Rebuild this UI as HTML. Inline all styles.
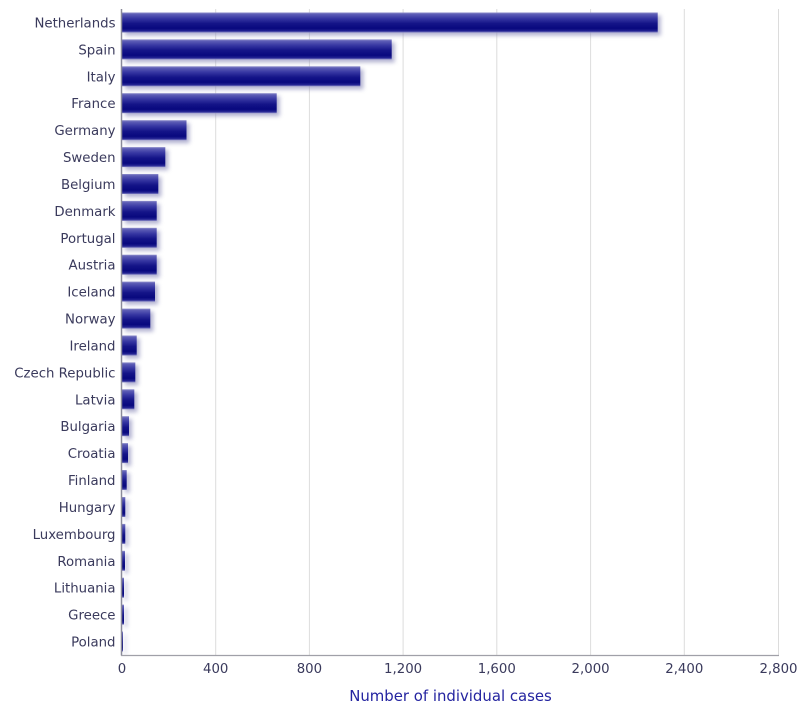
<!DOCTYPE html>
<html>
<head>
<meta charset="utf-8">
<style>
  html, body { margin: 0; padding: 0; background: #ffffff; }
  body { width: 812px; height: 714px; overflow: hidden; }
  svg { display: block; }
  text { font-family: "DejaVu Sans", "Liberation Sans", sans-serif; }
</style>
</head>
<body>
<svg width="812" height="714" viewBox="0 0 812 714" xmlns="http://www.w3.org/2000/svg">
  <defs>
    <linearGradient id="bg" x1="0" y1="0" x2="0" y2="1">
      <stop offset="0" stop-color="#9090cc"/>
      <stop offset="0.08" stop-color="#5e5eb6"/>
      <stop offset="0.3" stop-color="#3636a2"/>
      <stop offset="0.55" stop-color="#141488"/>
      <stop offset="0.8" stop-color="#08087e"/>
      <stop offset="0.92" stop-color="#222292"/>
      <stop offset="1" stop-color="#8080c4"/>
    </linearGradient>
    <filter id="sh" x="-20%" y="-50%" width="140%" height="200%">
      <feGaussianBlur stdDeviation="2.2"/>
    </filter>
  </defs>

  <!-- gridlines -->
  <g stroke="#dcdcdc" stroke-width="1">
    <line x1="215.7" y1="9" x2="215.7" y2="655"/>
    <line x1="309.4" y1="9" x2="309.4" y2="655"/>
    <line x1="403.1" y1="9" x2="403.1" y2="655"/>
    <line x1="496.8" y1="9" x2="496.8" y2="655"/>
    <line x1="590.6" y1="9" x2="590.6" y2="655"/>
    <line x1="684.3" y1="9" x2="684.3" y2="655"/>
    <line x1="778.5" y1="9" x2="778.5" y2="655"/>
  </g>

  <!-- shadows -->
  <g fill="#8888b8" opacity="0.65" filter="url(#sh)">
    <rect x="125" y="15.5" width="535.7" height="20"/>
    <rect x="125" y="42.4" width="269.7" height="20"/>
    <rect x="125" y="69.3" width="238.3" height="20"/>
    <rect x="125" y="96.2" width="154.7" height="20"/>
    <rect x="125" y="123.2" width="64.5" height="20"/>
    <rect x="125" y="150.1" width="43.3" height="20"/>
    <rect x="125" y="177.0" width="36.3" height="20"/>
    <rect x="125" y="203.9" width="34.7" height="20"/>
    <rect x="125" y="230.8" width="34.7" height="20"/>
    <rect x="125" y="257.7" width="34.7" height="20"/>
    <rect x="125" y="284.6" width="33" height="20"/>
    <rect x="125" y="311.6" width="28.3" height="20"/>
    <rect x="125" y="338.5" width="14.7" height="20"/>
    <rect x="125" y="365.4" width="13.3" height="20"/>
    <rect x="125" y="392.3" width="12.3" height="20"/>
    <rect x="125" y="419.2" width="7" height="20"/>
    <rect x="125" y="446.1" width="6" height="20"/>
    <rect x="125" y="473.0" width="4.7" height="20"/>
    <rect x="125" y="500.0" width="3.3" height="20"/>
    <rect x="125" y="526.9" width="3.3" height="20"/>
    <rect x="125" y="553.8" width="3" height="20"/>
    <rect x="125" y="580.7" width="2" height="20"/>
    <rect x="125" y="607.6" width="2" height="20"/>
    <rect x="125" y="634.5" width="1" height="20"/>
  </g>

  <!-- bars -->
  <g fill="url(#bg)">
    <rect x="122" y="12.5" width="535.7" height="20"/>
    <rect x="122" y="39.4" width="269.7" height="20"/>
    <rect x="122" y="66.3" width="238.3" height="20"/>
    <rect x="122" y="93.2" width="154.7" height="20"/>
    <rect x="122" y="120.2" width="64.5" height="20"/>
    <rect x="122" y="147.1" width="43.3" height="20"/>
    <rect x="122" y="174.0" width="36.3" height="20"/>
    <rect x="122" y="200.9" width="34.7" height="20"/>
    <rect x="122" y="227.8" width="34.7" height="20"/>
    <rect x="122" y="254.7" width="34.7" height="20"/>
    <rect x="122" y="281.6" width="33" height="20"/>
    <rect x="122" y="308.6" width="28.3" height="20"/>
    <rect x="122" y="335.5" width="14.7" height="20"/>
    <rect x="122" y="362.4" width="13.3" height="20"/>
    <rect x="122" y="389.3" width="12.3" height="20"/>
    <rect x="122" y="416.2" width="7" height="20"/>
    <rect x="122" y="443.1" width="6" height="20"/>
    <rect x="122" y="470.0" width="4.7" height="20"/>
    <rect x="122" y="497.0" width="3.3" height="20"/>
    <rect x="122" y="523.9" width="3.3" height="20"/>
    <rect x="122" y="550.8" width="3" height="20"/>
    <rect x="122" y="577.7" width="2" height="20"/>
    <rect x="122" y="604.6" width="2" height="20"/>
    <rect x="122" y="631.5" width="1" height="20"/>
  </g>

  <!-- axes -->
  <line x1="121.5" y1="9" x2="121.5" y2="655.5" stroke="#8a8a9a" stroke-width="1.5"/>
  <line x1="121" y1="655.5" x2="779" y2="655.5" stroke="#a0a0a8" stroke-width="1.2"/>

  <!-- category labels -->
  <g font-size="13.3" fill="#3a3a5c" text-anchor="end">
    <text x="115.5" y="27.5">Netherlands</text>
    <text x="115.5" y="54.4">Spain</text>
    <text x="115.5" y="81.3">Italy</text>
    <text x="115.5" y="108.2">France</text>
    <text x="115.5" y="135.2">Germany</text>
    <text x="115.5" y="162.1">Sweden</text>
    <text x="115.5" y="189.0">Belgium</text>
    <text x="115.5" y="215.9">Denmark</text>
    <text x="115.5" y="242.8">Portugal</text>
    <text x="115.5" y="269.7">Austria</text>
    <text x="115.5" y="296.6">Iceland</text>
    <text x="115.5" y="323.6">Norway</text>
    <text x="115.5" y="350.5">Ireland</text>
    <text x="115.5" y="377.4">Czech Republic</text>
    <text x="115.5" y="404.3">Latvia</text>
    <text x="115.5" y="431.2">Bulgaria</text>
    <text x="115.5" y="458.1">Croatia</text>
    <text x="115.5" y="485.0">Finland</text>
    <text x="115.5" y="512.0">Hungary</text>
    <text x="115.5" y="538.9">Luxembourg</text>
    <text x="115.5" y="565.8">Romania</text>
    <text x="115.5" y="592.7">Lithuania</text>
    <text x="115.5" y="619.6">Greece</text>
    <text x="115.5" y="646.5">Poland</text>
  </g>

  <!-- tick labels -->
  <g font-size="13.3" fill="#3a3a5c" text-anchor="middle">
    <text x="122" y="673">0</text>
    <text x="215.7" y="673">400</text>
    <text x="309.4" y="673">800</text>
    <text x="403.1" y="673">1,200</text>
    <text x="496.8" y="673">1,600</text>
    <text x="590.6" y="673">2,000</text>
    <text x="684.3" y="673">2,400</text>
    <text x="778.5" y="673">2,800</text>
  </g>

  <!-- axis title -->
  <text x="450.5" y="701" font-size="14.9" fill="#2424a0" text-anchor="middle">Number of individual cases</text>
</svg>
</body>
</html>
